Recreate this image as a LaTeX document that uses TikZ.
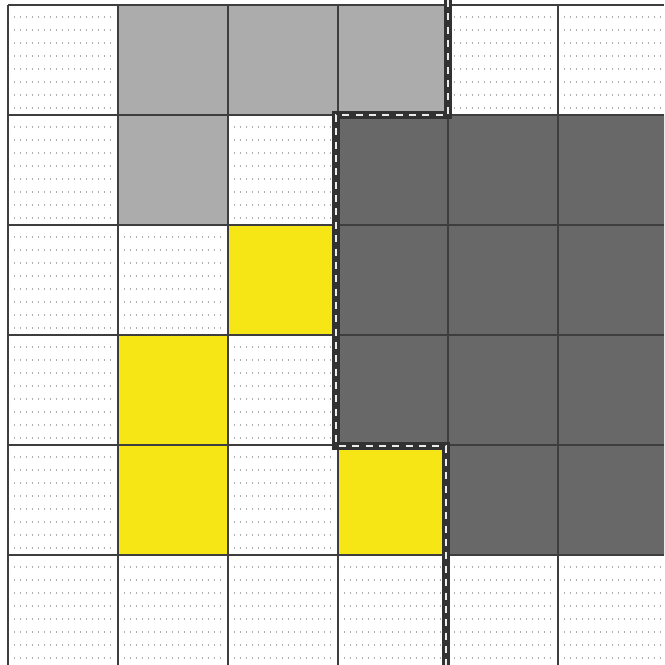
\documentclass[tikz,border=0pt]{standalone}
\usepackage{xcolor}
\definecolor{gridline}{RGB}{62,62,62}
\definecolor{lightblock}{RGB}{172,172,172}
\definecolor{darkblock}{RGB}{104,104,104}
\definecolor{markyellow}{RGB}{246,230,22}
\definecolor{dotgray}{RGB}{175,175,175}

\begin{document}
\begin{tikzpicture}[
		x=0.02cm, y=-0.02cm,
		gridrule/.style={draw=gridline, line width=1.2pt},
		dotrow/.style={draw=dotgray, line width=0.8pt, dash pattern=on 0.8pt off 2.6pt},
		edgeband/.style={draw=gridline!80!black, line width=4.6pt, line join=miter},
		edgedash/.style={draw=white!85!gray, line width=1pt, dash pattern=on 4pt off 3.6pt}
	]
		\useasboundingbox (0,0) rectangle (664,665);
		\clip (0,0) rectangle (664,665);
		\fill[white] (0,0) rectangle (664,665);

		% coloured cells (column/row)
		\foreach \c/\r in {1/0,2/0,3/0,1/1}
			\fill[lightblock] (8+110*\c,5+110*\r) rectangle ++(110,110);
		\foreach \c/\r in {3/1,4/1,5/1,3/2,4/2,5/2,3/3,4/3,5/3,4/4,5/4}
			\fill[darkblock] (8+110*\c,5+110*\r) rectangle ++(110,110);
		\foreach \c/\r in {2/2,1/3,1/4,3/4}
			\fill[markyellow] (8+110*\c,5+110*\r) rectangle ++(110,110);

		% dotted texture of the empty cells
		\foreach \c/\r in {0/0,4/0,5/0,0/1,2/1,0/2,1/2,0/3,2/3,0/4,2/4,0/5,1/5,2/5,3/5,4/5,5/5}
			\foreach \k in {0,...,7}
				\draw[dotrow] (14+110*\c,17+110*\r+13*\k) -- ++(96,0);

		% grid
		\foreach \i in {0,...,5} {
			\draw[gridrule] (8+110*\i,5) -- (8+110*\i,665);
			\draw[gridrule] (8,5+110*\i) -- (664,5+110*\i);
		}

		% boundary
		\coordinate (top) at (448,0);
		\coordinate (stepA) at (448,115);
		\coordinate (stepB) at (336,115);
		\coordinate (stepC) at (336,446);
		\coordinate (stepD) at (446,446);
		\coordinate (bottom) at (446,665);
		\draw[edgeband] (top) -- (stepA) -- (stepB) -- (stepC) -- (stepD) -- (bottom);
		\draw[edgedash] (top) -- (stepA) -- (stepB) -- (stepC) -- (stepD) -- (bottom);
	\end{tikzpicture}
\end{document}
